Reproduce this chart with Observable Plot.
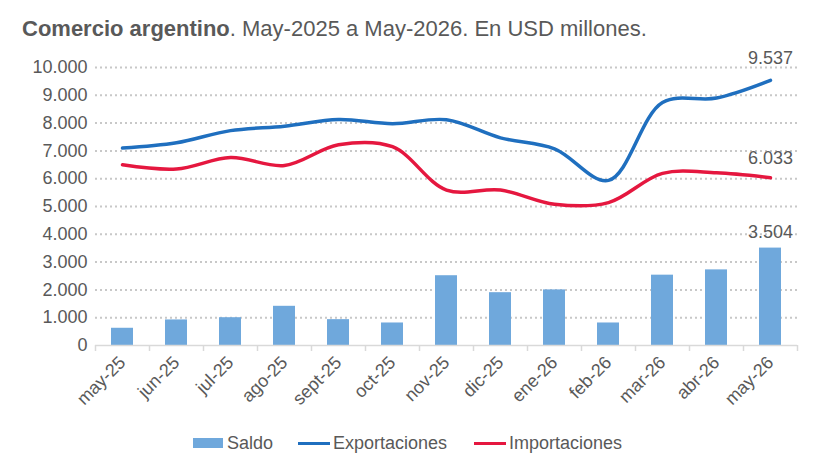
<!DOCTYPE html>
<html><head><meta charset="utf-8">
<script src="https://cdn.jsdelivr.net/npm/d3@7"></script>
<script src="https://cdn.jsdelivr.net/npm/@observablehq/plot@0.6"></script>
<style>
body{margin:0;background:#fff;font-family:"Liberation Sans",Arial,sans-serif;color:#595959;}
#wrap{position:relative;width:826px;height:460px;overflow:hidden;}
#title{position:absolute;left:22px;top:17px;font-size:22px;line-height:24px;white-space:nowrap;z-index:2;}
#chart{position:absolute;left:0;top:40px;z-index:1;}
.lg{position:absolute;font-size:18px;line-height:20px;top:433px;white-space:nowrap;}
.sw{position:absolute;}
</style></head>
<body>
<div id="wrap">
  <div id="title"><b>Comercio argentino</b>. May-2025 a May-2026. En USD millones.</div>
  <div id="chart"></div>
  <div class="sw" style="left:193px;top:438px;width:30px;height:10px;background:#6fa8dc"></div>
  <div class="lg" style="left:227px">Saldo</div>
  <div class="sw" style="left:298px;top:442px;width:32px;height:3px;background:#1f6fbf"></div>
  <div class="lg" style="left:333px">Exportaciones</div>
  <div class="sw" style="left:474px;top:442px;width:32px;height:3px;background:#e5173f"></div>
  <div class="lg" style="left:509px">Importaciones</div>
</div>
<script>
const meses = ["may-25","jun-25","jul-25","ago-25","sept-25","oct-25","nov-25","dic-25","ene-26","feb-26","mar-26","abr-26","may-26"];
const saldo = [620, 920, 1000, 1410, 930, 810, 2510, 1900, 2000, 810, 2530, 2720, 3504];
const exportaciones = [7100, 7290, 7730, 7890, 8130, 7980, 8120, 7470, 7075, 5940, 8740, 8900, 9537];
const importaciones = [6500, 6350, 6760, 6475, 7220, 7150, 5590, 5590, 5080, 5140, 6190, 6210, 6033];
const yTicks = [0,1000,2000,3000,4000,5000,6000,7000,8000,9000,10000];

const data = meses.map((m,i)=>({mes:m, saldo:saldo[i], expo:exportaciones[i], impo:importaciones[i]}));
const last = data[data.length-1];
const fmt = d => d3.format(",")(d).replace(/,/g, ".");
const labelStyle = {fill:"#595959", fontSize:18, textAnchor:"middle"};

const chart = Plot.plot({
  width: 826, height: 385,
  marginLeft: 95, marginRight: 29, marginTop: 27, marginBottom: 80,
  style: {fontFamily: "'Liberation Sans', Arial, sans-serif", fontSize: "18px", color: "#595959", background: "transparent"},
  x: {domain: meses, padding: 0, label: null, tickSize: 0, tickRotate: -45, tickPadding: 14},
  y: {domain: [0, 10000], ticks: yTicks, label: null, tickSize: 0, tickPadding: 8, tickFormat: fmt},
  marks: [
    Plot.ruleY(yTicks.filter(d => d > 0), {stroke:"#c8c8c8", strokeDasharray:"2,3", strokeWidth:2}),
    Plot.barY(data, {x:"mes", y:"saldo", fill:"#6fa8dc", insetLeft:16, insetRight:16}),
    Plot.ruleY([0], {stroke:"#d9d9d9", strokeWidth:1.5}),
    Plot.ruleX(data, {x:"mes", y1:0, y2:0, dx:-27, insetTop:6, stroke:"#d9d9d9", strokeWidth:1.5}),
    Plot.ruleX([last], {x:"mes", y1:0, y2:0, dx:27, insetTop:6, stroke:"#d9d9d9", strokeWidth:1.5}),
    Plot.line(data, {x:"mes", y:"impo", stroke:"#e5173f", strokeWidth:3.5, curve:"catmull-rom"}),
    Plot.line(data, {x:"mes", y:"expo", stroke:"#1f6fbf", strokeWidth:3.5, curve:"catmull-rom"}),
    Plot.text([last], {x:"mes", y:"expo", text: d => fmt(d.expo), dy:-22, ...labelStyle}),
    Plot.text([last], {x:"mes", y:"impo", text: d => fmt(d.impo), dy:-20, ...labelStyle}),
    Plot.text([last], {x:"mes", y:"saldo", text: d => fmt(d.saldo), dy:-16, ...labelStyle})
  ]
});
document.getElementById("chart").appendChild(chart);
</script>
</body></html>
